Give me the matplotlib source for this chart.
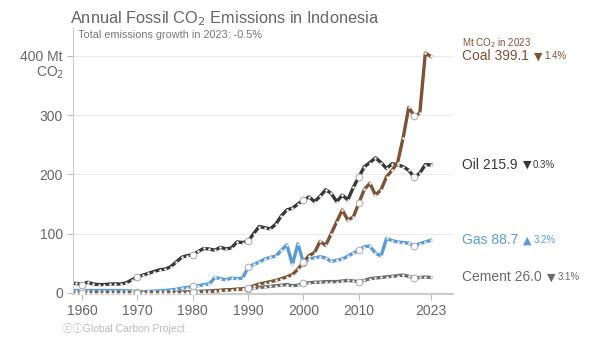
import matplotlib.pyplot as plt
from matplotlib import transforms

plt.rcParams['font.family'] = ['Liberation Sans', 'DejaVu Sans']

years = list(range(1958, 2024))

coal = [0.6, 0.6,
        0.5, 0.5, 0.5, 0.5, 0.5, 0.5, 0.4, 0.3, 0.4, 0.4,
        0.4, 0.3, 0.3, 0.3, 0.3, 0.4, 0.4, 0.5, 0.5, 0.5,
        0.7, 0.8, 0.9, 1.5, 2.5, 4.0, 5.0, 5.5, 6.0, 6.5,
        8, 12, 15, 17, 19, 21, 24, 27, 31, 40,
        52, 63, 68, 87, 80, 100, 120, 140, 123, 128,
        152, 175, 185, 165, 174, 196, 207, 220, 262, 313,
        299, 303, 404.8, 399.1]

oil = [16, 16,
       14, 18, 15, 14, 14, 15, 15, 15, 17, 22,
       27, 30, 33, 36, 39, 40, 44, 52, 60, 63,
       64, 70, 75, 74, 72, 77, 74, 76, 86, 85,
       87, 100, 112, 110, 108, 116, 130, 140, 143, 150,
       157, 162, 154, 163, 174, 168, 154, 165, 157, 178,
       196, 213, 220, 228, 220, 210, 218, 216, 213, 207,
       195, 202, 216.5, 215.9]

gas = [4, 4,
       4, 4, 4, 4, 4, 4, 4, 4, 3.5, 3,
       2, 2, 2.5, 3, 3.5, 4, 5, 6, 8, 9,
       11, 12, 14, 15, 26, 24, 22, 25, 24, 25,
       43, 48, 52, 57, 60, 62, 72, 81, 48, 83,
       50, 58, 59, 61, 59, 53, 55, 57, 62, 67,
       72, 78, 79, 67, 62, 92, 88, 86, 85, 84,
       79, 83, 86.0, 88.7]

cement = [0.5, 0.5,
          0.5, 0.5, 0.5, 0.5, 0.5, 0.5, 0.5, 0.5, 0.5, 0.5,
          0.5, 0.5, 0.6, 0.7, 0.8, 0.9, 1.0, 1.2, 1.5, 1.8,
          2.2, 2.6, 3, 3.5, 4, 4.5, 5, 5.5, 6, 6.5,
          7, 8, 9, 10, 11, 12, 13, 14, 12, 13,
          16, 17, 18, 18, 19, 19, 19, 20, 21, 20,
          19, 21, 24, 25, 26, 27, 28, 29, 30, 28,
          25, 26, 26.8, 26.0]

names = ['Coal', 'Oil', 'Gas', 'Cement']
series = [coal, oil, gas, cement]
colors = ['#7e5236', '#383838', '#5b9bd5', '#6a6a6a']
changes = ['▼', '▼', '▲', '▼']
pcts = ['1.4%', '0.3%', '3.2%', '3.1%']

decades = list(range(1960, 2021, 10))

fig = plt.figure(figsize=(6, 3.38), dpi=100)
ax = fig.add_axes([0.121, 0.130, 0.634, 0.787])

# horizontal grid
for v in [100, 200, 300, 400]:
    ax.axhline(v, color='#ececec', lw=0.8, zorder=0)

for name, vals, c in zip(names[::-1], series[::-1], colors[::-1]):
    ax.plot(years, vals, color=c, lw=2.4, solid_joinstyle='round', zorder=2)
    ax.plot(years, vals, 'o', ms=1.8, color='white', mew=0, zorder=3)
    dv = [vals[years.index(y)] for y in decades]
    ax.plot(decades, dv, 'o', ms=4.8, mfc='white', mec='#aaaaaa', mew=0.7, zorder=4)

ax.set_xlim(1958.3, 2027.0)
ax.set_ylim(-2, 447)

ax.set_xticks([1960, 1970, 1980, 1990, 2000, 2010, 2023])
ax.set_xticklabels(['1960', '1970', '1980', '1990', '2000', '2010', '2023'])
ax.set_yticks([0, 100, 200, 300, 400])
ax.set_yticklabels(['0', '100', '200', '300', '400 Mt'])
ax.tick_params(axis='both', colors='#bbbbbb', labelcolor='#666666', labelsize=10, length=4, width=0.8)
ax.tick_params(axis='y', pad=3)
ax.annotate('CO$_2$', xy=(0, 400), xycoords=('axes fraction', 'data'),
            xytext=(-6.3, -12), textcoords='offset points', ha='right', va='center',
            color='#666666', fontsize=10)

for s in ['top', 'right']:
    ax.spines[s].set_visible(False)
ax.spines['left'].set_color('#cccccc')
ax.spines['left'].set_linewidth(0.8)
ax.spines['bottom'].set_color('#cccccc')
ax.spines['bottom'].set_linewidth(1.6)

# right-hand labels
tr = transforms.blended_transform_factory(ax.transAxes, ax.transData)
ax.text(1.024, coal[-1] + 22, 'Mt CO$_2$ in 2023', transform=tr, color=colors[0],
        fontsize=7, va='center', ha='left')
for name, vals, c, ch, p in zip(names, series, colors, changes, pcts):
    t = ax.text(1.024, vals[-1], f'{name} {vals[-1]:.1f}', transform=tr, color=c,
                fontsize=10, va='center', ha='left', clip_on=False)
    a = ax.annotate(ch, xy=(1, 0.5), xycoords=t, xytext=(3.5, 0),
                    textcoords='offset points', color=c, fontsize=8, va='center', ha='left',
                    family=['DejaVu Sans'])
    ax.annotate(p, xy=(1, 0.5), xycoords=a, xytext=(1.5, 0),
                textcoords='offset points', color=c, fontsize=7, va='center', ha='left')

fig.text(0.117, 0.946, 'Annual Fossil CO$_2$ Emissions in Indonesia', color='#666666',
         fontsize=11.8, va='center', ha='left')
fig.text(0.130, 0.896, 'Total emissions growth in 2023: -0.5%', color='#777777',
         fontsize=7.8, va='center', ha='left')
fig.text(0.103, 0.027, 'ⓒⓘGlobal Carbon Project', color='#bbbbbb',
         fontsize=7.5, va='center', ha='left',
         family=['Liberation Sans', 'Noto Sans CJK SC', 'DejaVu Sans'])

fig.savefig('out.png', dpi=100)
